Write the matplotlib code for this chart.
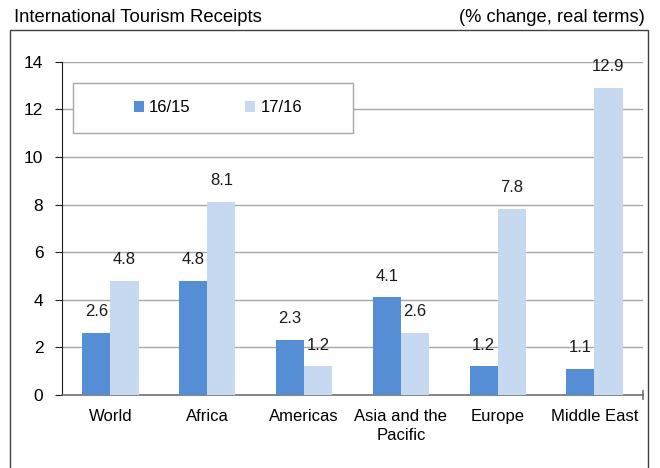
import matplotlib.pyplot as plt
import numpy as np
from matplotlib.patches import Rectangle

# -------------------------------------------------------------------------
# Datos
# -------------------------------------------------------------------------
regiones = ["World", "Africa", "Americas", "Asia and the\nPacific", "Europe", "Middle East"]
cambio_16_15 = [2.6, 4.8, 2.3, 4.1, 1.2, 1.1]
cambio_17_16 = [4.8, 8.1, 1.2, 2.6, 7.8, 12.9]
series = ["16/15", "17/16"]
colores = ["#558ED5", "#C6D9F1"]

plt.rcParams["font.family"] = ["Liberation Sans", "DejaVu Sans"]

fig = plt.figure(figsize=(6.6, 4.68), dpi=100)
ax = fig.add_axes([0.094, 0.156, 0.880, 0.712])

# marco exterior
fig.patches.append(Rectangle((10 / 660, -0.05), 638 / 660, 1 - 30 / 468 + 0.05,
                             transform=fig.transFigure, fill=False,
                             edgecolor="#404040", linewidth=1.0))

x = np.arange(len(regiones))
ancho = 0.29
b1 = ax.bar(x - ancho / 2, cambio_16_15, ancho, color=colores[0], label=series[0], zorder=3)
b2 = ax.bar(x + ancho / 2, cambio_17_16, ancho, color=colores[1], label=series[1], zorder=3)

for barras in (b1, b2):
    for rect in barras:
        h = rect.get_height()
        ax.annotate(f"{h:.1f}", (rect.get_x() + rect.get_width() / 2, h),
                    xytext=(0, 10), textcoords="offset points",
                    ha="center", va="bottom", fontsize=12, color="#1a1a1a")

ax.set_xlim(-0.5, len(regiones) - 0.5)
ax.set_ylim(0, 14)
ax.set_yticks(range(0, 15, 2))
ax.set_xticks(x)
ax.set_xticklabels(regiones, fontsize=12, linespacing=1.35)
ax.tick_params(axis="y", labelsize=12.5, length=5, pad=8.5, color="#1a1a1a")
ax.tick_params(axis="x", length=0, pad=10)
ax.grid(axis="y", color="#A6A6A6", linewidth=1.0, zorder=0)
ax.set_axisbelow(True)
for s in ("top", "right"):
    ax.spines[s].set_visible(False)
ax.spines["left"].set_color("#1a1a1a")
ax.spines["bottom"].set_color("#707070")
ax.spines["bottom"].set_linewidth(1.2)
# marca al final del eje x
ax.plot([1, 1], [-0.012, 0.012], transform=ax.transAxes, color="#707070",
        linewidth=1.2, clip_on=False)

# caja de la leyenda
ax.add_patch(Rectangle((11 / 581, 262 / 333), 280 / 581, 50 / 333, transform=ax.transAxes,
                       facecolor="white", edgecolor="#A6A6A6", linewidth=1.0, zorder=4))
leg = ax.legend(loc="center", bbox_to_anchor=((11 + 145) / 581, 287 / 333),
                ncol=2, fontsize=12, frameon=False,
                handlelength=0.6, handleheight=0.6, handletextpad=0.3,
                columnspacing=3.3)
leg.set_zorder(5)

fig.text(14 / 660, 1 - 18 / 468, "International Tourism Receipts", fontsize=13.3, va="center", ha="left")
fig.text(645 / 660, 1 - 18 / 468, "(% change, real terms)", fontsize=13.2, va="center", ha="right")

fig.savefig("out.png", dpi=100)
